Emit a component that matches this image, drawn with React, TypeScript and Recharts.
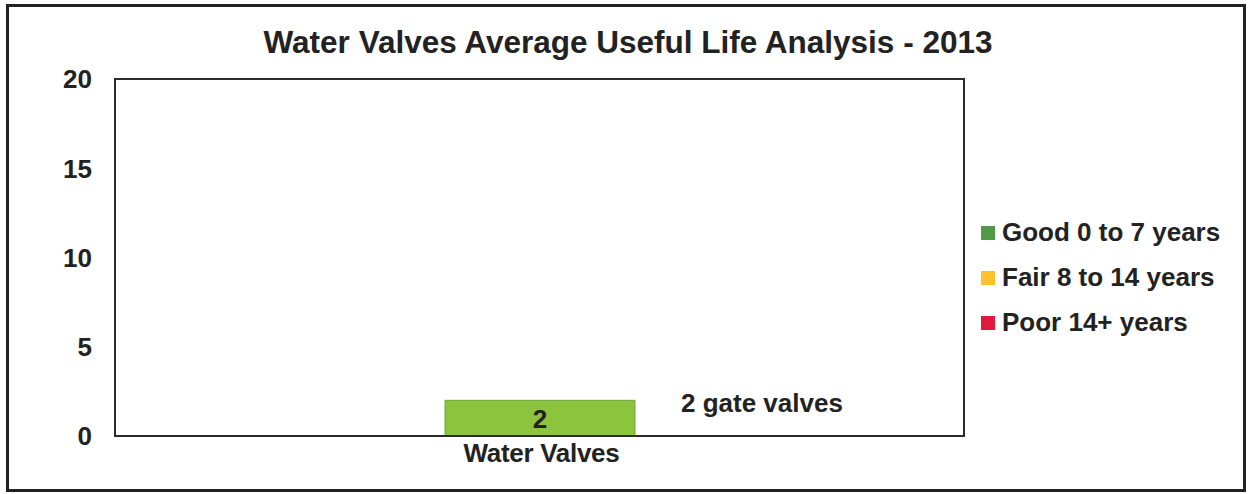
import React from "react";
import { Bar, BarChart, LabelList, Legend, ReferenceArea, XAxis, YAxis } from "recharts";

const categories = ["Water Valves"];
const goodValues = [2];
const fairValues = [0];
const poorValues = [0];
const barNotes = ["2 gate valves"];
const yTicks = [0, 5, 10, 15, 20];

const series = [
  { key: "good", name: "Good 0 to 7 years", color: "#8cc43e", swatch: "#4f9a45" },
  { key: "fair", name: "Fair 8 to 14 years", color: "#ffc000", swatch: "#ffc12e" },
  { key: "poor", name: "Poor 14+ years", color: "#e0193f", swatch: "#e0193f" },
];

const data = categories.map((name, i) => ({
  name,
  good: goodValues[i],
  fair: fairValues[i],
  poor: poorValues[i],
  note: barNotes[i],
}));

const FONT = "'Liberation Sans', Arial, Helvetica, sans-serif";
const INK = "#222";

const YTick = ({ x, y, payload }) => (
  <text x={x - 15} y={y} dy="0.36em" textAnchor="end" fontFamily={FONT} fontWeight="bold" fontSize={26} fill={INK}>
    {payload.value}
  </text>
);

const XTick = ({ x, y, payload }) => (
  <text x={x + 2} y={y + 18} textAnchor="middle" fontFamily={FONT} fontWeight="bold" fontSize={26} fill={INK} letterSpacing={-0.3}>
    {payload.value}
  </text>
);

const renderBarLabel = (props) => {
  const { x, y, width, height, value, index } = props;
  return (
    <g>
      <text x={x + width / 2} y={y + height / 2} dy="0.36em" textAnchor="middle" fontFamily={FONT} fontWeight="bold" fontSize={26} fill={INK}>
        {value}
      </text>
      <text x={x + width + 46} y={y + 12} fontFamily={FONT} fontWeight="bold" fontSize={26} fill={INK}>
        {data[index] ? data[index].note : ""}
      </text>
    </g>
  );
};

const renderLegend = () => (
  <div style={{ width: 270, paddingLeft: 17, boxSizing: "border-box" }}>
    {series.map((s) => (
      <div key={s.key} style={{ height: 45, display: "flex", alignItems: "center" }}>
        <span style={{ width: 14, height: 14, background: s.swatch, marginRight: 7, flex: "none" }} />
        <span style={{ fontFamily: FONT, fontWeight: "bold", fontSize: 26, color: INK, whiteSpace: "nowrap" }}>
          {s.name}
        </span>
      </div>
    ))}
  </div>
);

export default function App() {
  return (
    <div style={{ position: "absolute", left: 0, top: 0, width: 1248, height: 494, background: "#fff" }}>
      <div
        style={{
          position: "absolute",
          left: 6,
          top: 4,
          width: 1240,
          height: 488,
          border: "3px solid #222",
          boxSizing: "border-box",
        }}
      />
      <div
        style={{
          position: "absolute",
          left: 228,
          top: 27,
          width: 800,
          textAlign: "center",
          fontFamily: FONT,
          fontWeight: "bold",
          fontSize: 31.5,
          lineHeight: "30px",
          color: INK,
          whiteSpace: "nowrap",
        }}
      >
        Water Valves Average Useful Life Analysis - 2013
      </div>
      <BarChart
        width={1248}
        height={494}
        data={data}
        margin={{ top: 79, right: 14, bottom: 18, left: 55 }}
        style={{ position: "absolute", left: 0, top: 0 }}
      >
        <XAxis dataKey="name" height={40} axisLine={{ stroke: "#2b2b2b", strokeWidth: 2 }} tickLine={false} tick={XTick} />
        <YAxis domain={[0, 20]} ticks={yTicks} width={60} axisLine={{ stroke: "#2b2b2b", strokeWidth: 2 }} tickLine={false} tick={YTick} />
        <ReferenceArea y1={0} y2={20} fill="none" stroke="#2b2b2b" strokeWidth={2} ifOverflow="visible" />
        <Legend layout="vertical" align="right" verticalAlign="top" width={270} content={renderLegend} wrapperStyle={{ top: 210, right: 14 }} />
        {series.map((s) => (
          <Bar
            key={s.key}
            dataKey={s.key}
            name={s.name}
            stackId="life"
            fill={s.color}
            stroke={s.key === "good" ? "#6fa83a" : "none"}
            strokeWidth={1}
            barSize={190}
            isAnimationActive={false}
          >
            {s.key === "good" && <LabelList dataKey="good" content={renderBarLabel} />}
          </Bar>
        ))}
      </BarChart>
    </div>
  );
}
